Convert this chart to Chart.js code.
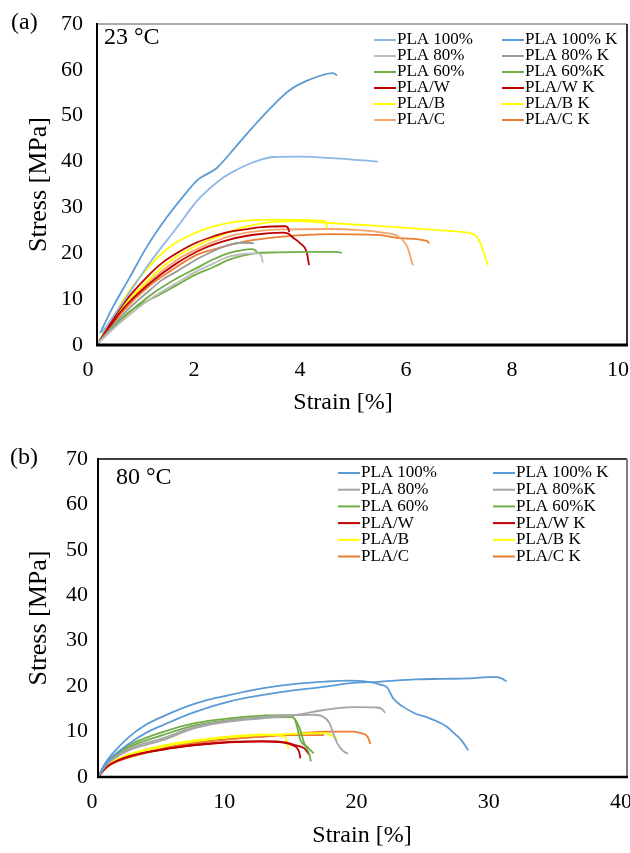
<!DOCTYPE html>
<html>
<head>
<meta charset="utf-8">
<script src="https://cdn.jsdelivr.net/npm/chart.js@4.4.1/dist/chart.umd.min.js"></script>
<style>
  html, body { margin: 0; padding: 0; background: #fff; }
  #wrap { position: relative; width: 630px; height: 853px; }
  canvas { position: absolute; left: 0; }
  #chartA { top: 0; }
  #chartB { top: 425px; }
</style>
</head>
<body>
<div id="wrap">
  <canvas id="chartA" width="630" height="425"></canvas>
  <canvas id="chartB" width="630" height="428"></canvas>
</div>
<script>
// (a) 23 °C  -- [strain %, stress MPa]
const a_PLA100  = [[0.09,2.6],[0.5,9.5],[1.0,18],[1.5,25.5],[1.9,31.6],[2.32,36],[2.57,37.8],[2.94,39.8],[3.32,41],[3.83,41.1],[4.5,40.7],[5.3,40]];
const a_PLA100K = [[0.06,2.6],[0.3,8.3],[0.62,14.8],[0.94,21.4],[1.32,27.9],[1.57,31.6],[1.9,36],[2.26,38.6],[2.6,43],[2.94,47.5],[3.3,52],[3.64,55.6],[4.0,57.8],[4.45,59.3],[4.53,58.8]];
const a_PLA80   = [[0.02,0.4],[0.5,5.5],[1.0,10],[1.5,13.5],[1.85,15.9],[2.2,17.8],[2.47,19.2],[2.8,19.9],[3.04,20],[3.1,19.4],[3.13,18]];
const a_PLA80K  = [[0.02,0.4],[0.5,6.8],[1.0,12],[1.23,14.2],[1.5,16],[1.85,18.5],[2.2,20.5],[2.47,21.8],[2.75,22.3],[2.96,22.2]];
const a_PLA60   = [[0.02,0.4],[0.5,6],[1.0,10.8],[1.5,14.5],[1.85,16.6],[2.2,18.7],[2.47,20.0],[2.7,20.6],[2.92,20.9],[2.98,20.7],[3.02,20.2]];
const a_PLA60K  = [[0.02,0.4],[0.58,7],[1.23,11.3],[1.5,13],[1.85,15.3],[2.2,17],[2.47,18.5],[2.75,19.5],[2.98,20],[3.4,20.2],[4.0,20.3],[4.5,20.3],[4.62,20.1]];
const a_PLAW    = [[0.02,0.4],[0.5,9],[1.0,15.5],[1.23,17.9],[1.5,20],[1.85,22.2],[2.15,23.5],[2.47,24.6],[2.8,25.2],[3.1,25.7],[3.55,25.9],[3.6,25.6],[3.63,24.6]];
const a_PLAWK   = [[0.02,0.4],[0.5,8],[1.0,13.5],[1.5,17.8],[2.0,21],[2.5,23],[3.0,24.1],[3.5,24.5],[3.62,24.2],[3.7,23.4],[3.83,22.2],[3.96,20.1],[4.0,17.4]];
const a_PLAB    = [[0.02,0.4],[0.3,6],[0.58,11.3],[0.9,16],[1.23,20],[1.5,22.4],[1.85,24.4],[2.15,25.7],[2.47,26.6],[3.1,27.3],[3.74,27.3],[4.3,27.0],[4.35,25.5]];
const a_PLABK   = [[0.02,0.4],[0.5,8.5],[1.0,14.5],[1.23,17],[1.6,20],[2.0,22.3],[2.36,24],[2.8,25.8],[3.3,26.8],[3.8,27.0],[4.4,26.6],[5.5,25.8],[6.5,25.0],[6.9,24.6],[7.13,24.0],[7.23,22.3],[7.3,20],[7.38,17.4]];
const a_PLAC    = [[0.02,0.4],[0.5,8],[1.0,14],[1.5,18.5],[1.85,20.7],[2.2,22.5],[2.6,24],[3.0,24.8],[3.5,25.2],[4.4,25.3],[5.0,25],[5.4,24.5],[5.66,23.8],[5.85,21.5],[5.96,17.4]];
const a_PLACK   = [[0.02,0.4],[0.5,7.5],[1.0,13],[1.5,17],[1.85,19.5],[2.19,20.8],[2.8,22.6],[3.45,23.6],[4.4,24.2],[5.3,24],[5.72,23.3],[6.22,22.7],[6.27,22.2]];

// (b) 80 °C
const b_PLA100  = [[0,0],[0.5,2.5],[1,4.2],[2.37,7.4],[3.5,9.5],[4.88,11.4],[7.4,14.4],[9.9,16.6],[12.4,18.0],[14.9,19.1],[17.2,19.9],[18.9,20.6],[21.4,21.0],[24,21.5],[26,21.6],[28,21.7],[29.5,22.0],[30.2,22.0],[30.6,21.6],[30.9,21.0]];
const b_PLA100K = [[0,0],[0.5,2.8],[1,4.8],[2.37,8.9],[3.5,11.3],[4.88,13.3],[7.4,16.2],[9.9,18.0],[12.4,19.5],[14.9,20.5],[17.2,21.0],[18.9,21.2],[20.3,21.0],[21.4,20.3],[21.9,19.6],[22.3,17.4],[23,15.6],[23.9,14.1],[25,13],[25.9,11.9],[26.5,10.8],[26.9,9.7],[27.5,8],[28,5.9]];
const b_PLA80   = [[0,0],[0.5,2.2],[1,3.6],[2.37,5.9],[4.88,8.1],[7.4,10.8],[9.9,12.2],[12.4,12.9],[14.9,13.6],[17.2,14.8],[19.3,15.4],[21.1,15.3],[21.5,14.9],[21.7,14.1]];
const b_PLA80K  = [[0,0],[0.5,2.2],[1,3.7],[2.37,6.2],[4.88,8.5],[7.4,11.1],[9.9,12.4],[12.4,13.2],[14.6,13.6],[16.3,13.7],[17.0,13.3],[17.5,11.9],[17.8,9.5],[18.1,7.4],[18.5,5.8],[18.9,5.1]];
const b_PLA60   = [[0,0],[0.5,2.5],[1,4.2],[2.37,7.0],[4.88,9.9],[7.4,11.9],[9.9,12.9],[12.4,13.5],[14.4,13.6],[14.9,12.5],[15.1,10.5],[15.3,8.1],[15.8,6.7],[16.3,5.2]];
const b_PLA60K  = [[0,0],[0.5,2.4],[1,4.0],[2.37,6.6],[4.88,9.2],[7.4,11.4],[9.9,12.5],[12.4,13.1],[14.7,13.2],[15.2,11.1],[15.6,7.4],[16.0,4.8],[16.1,3.4]];
const b_PLAW    = [[0,0],[0.5,1.8],[1,2.9],[2.37,4.5],[4.88,6.0],[7.4,7.0],[9.9,7.6],[12.4,7.8],[13.9,7.6],[14.7,7.0],[15.2,5.6],[15.3,4.1]];
const b_PLAWK   = [[0,0],[0.5,1.8],[1,2.9],[2.37,4.6],[4.88,6.1],[7.4,7.1],[9.9,7.7],[12.4,7.9],[14.2,7.6],[14.9,7.0],[15.6,6.3],[16.0,4.8]];
const b_PLAB    = [[0,0],[0.5,2.0],[1,3.2],[2.37,5.0],[4.88,6.9],[7.4,8.1],[9.9,8.9],[12.4,9.4],[14.0,9.0],[14.2,8.5],[14.4,6.3]];
const b_PLABK   = [[0,0],[0.5,1.9],[1,3.1],[2.37,4.8],[4.88,6.7],[7.4,7.9],[9.9,8.7],[12.4,9.2],[15,9.5],[17.1,9.7],[17.6,9.2],[18.1,8.4]];
const b_PLAC    = [[0,0],[0.5,1.7],[1,2.8],[2.37,4.3],[4.88,6.2],[7.4,7.4],[9.9,8.3],[12.4,8.9],[15,9.5],[17.2,10.0],[19.2,10.0],[19.8,9.7],[20.4,8.8],[20.6,7.3]];
const b_PLACK   = [[0,0],[0.5,1.7],[1,2.8],[2.37,4.4],[4.88,6.3],[7.4,7.6],[9.9,8.4],[12.4,8.9],[15,9.2],[17.1,9.2]];

const labelsA = ['PLA 100%', 'PLA 100% K', 'PLA 80%', 'PLA 80% K', 'PLA 60%', 'PLA 60%K', 'PLA/W', 'PLA/W K', 'PLA/B', 'PLA/B K', 'PLA/C', 'PLA/C K'];
const labelsB = ['PLA 100%', 'PLA 100% K', 'PLA 80%', 'PLA 80%K', 'PLA 60%', 'PLA 60%K', 'PLA/W', 'PLA/W K', 'PLA/B', 'PLA/B K', 'PLA/C', 'PLA/C K'];
const seriesA = [a_PLA100, a_PLA100K, a_PLA80, a_PLA80K, a_PLA60, a_PLA60K, a_PLAW, a_PLAWK, a_PLAB, a_PLABK, a_PLAC, a_PLACK];
const seriesB = [b_PLA100, b_PLA100K, b_PLA80, b_PLA80K, b_PLA60, b_PLA60K, b_PLAW, b_PLAWK, b_PLAB, b_PLABK, b_PLAC, b_PLACK];
const colorsA = ['#8DB8E4', '#5B9BD5', '#BDBDBD', '#9A9A9A', '#70AD47', '#70AD47', '#C00000', '#C00000', '#FFFF00', '#FFFF00', '#F4A46C', '#ED7D31'];
const colorsB = ['#5B9BD5', '#5B9BD5', '#A5A5A5', '#A5A5A5', '#70AD47', '#70AD47', '#C00000', '#C00000', '#FFFF00', '#FFFF00', '#ED7D31', '#ED7D31'];

const serif = "'Liberation Serif', 'Times New Roman', serif";

// frame, panel texts and the two-column legend
const decorations = {
  id: 'decorations',
  afterDatasetsDraw(chart, args, o) {
    const ctx = chart.ctx;
    const { left, right, top, bottom } = chart.chartArea;
    ctx.save();
    const edge = (x1, y1, x2, y2, w, c) => {
      ctx.beginPath(); ctx.lineWidth = w; ctx.strokeStyle = c;
      ctx.moveTo(x1, y1); ctx.lineTo(x2, y2); ctx.stroke();
    };
    edge(left, top, right, top, o.topW, o.topC);
    edge(right, top, right, bottom, 2, o.rightC);
    edge(left, top - 1, left, bottom + 1, 2, '#000');
    edge(left - 1, bottom, right + 1, bottom, o.bottomW, '#000');

    ctx.fillStyle = '#000';
    ctx.textBaseline = 'middle';
    ctx.textAlign = 'left';
    ctx.font = '24px ' + serif;
    ctx.fillText(o.panel, o.panelX, o.panelY);
    ctx.fillText(o.temp, o.tempX, o.tempY);
    ctx.textAlign = 'center';
    ctx.fillText('Strain [%]', o.xTitleX, o.xTitleY);

    ctx.font = '17px ' + serif;
    ctx.textAlign = 'left';
    chart.data.datasets.forEach((ds, i) => {
      const x = o.legendX[i % 2];
      const y = o.legendY + Math.floor(i / 2) * o.legendRow;
      edge(x, y, x + 22, y, 2, ds.borderColor);
      ctx.fillText(ds.label, x + 23, y);
    });
    ctx.restore();
  }
};

function makeChart(id, cfg) {
  return new Chart(document.getElementById(id), {
    type: 'line',
    data: {
      datasets: cfg.series.map((d, i) => ({
        label: cfg.labels[i],
        data: d,
        borderColor: cfg.colors[i],
        borderWidth: 1.8,
        pointRadius: 0,
        cubicInterpolationMode: 'monotone',
        fill: false,
      })),
    },
    options: {
      responsive: false,
      animation: false,
      layout: { padding: { top: cfg.padTop, right: 3, left: 0, bottom: 0 } },
      plugins: {
        legend: { display: false },
        tooltip: { enabled: false },
        decorations: cfg.deco,
      },
      scales: {
        x: {
          type: 'linear',
          min: 0,
          max: cfg.xMax,
          grid: { display: false, drawTicks: false },
          border: { display: false },
          ticks: {
            stepSize: cfg.xStep,
            color: '#000',
            font: { family: serif, size: 22 },
            padding: 12,
            labelOffset: cfg.labelOffset,
            maxRotation: 0,
            autoSkip: false,
          },
          afterFit: (s) => { s.height = cfg.xAxisH; s.paddingLeft = 0; s.paddingRight = 0; },
        },
        y: {
          min: 0,
          max: 70,
          grid: { display: false, drawTicks: false },
          border: { display: false },
          ticks: {
            stepSize: 10,
            color: '#000',
            font: { family: serif, size: 22 },
            padding: cfg.yPad,
          },
          title: {
            display: true,
            text: 'Stress [MPa]',
            color: '#000',
            font: { family: serif, size: 26 },
            padding: { top: 24, bottom: 0 },
          },
          afterFit: (s) => { s.width = cfg.yAxisW; s.paddingTop = 0; s.paddingBottom = 0; },
        },
      },
    },
    plugins: [decorations],
  });
}

makeChart('chartA', {
  series: seriesA, labels: labelsA, colors: colorsA,
  padTop: 24, xMax: 10, xStep: 2, labelOffset: -9, xAxisH: 80, yAxisW: 97, yPad: 14,
  deco: {
    topW: 1, topC: '#595959', rightC: '#333', bottomW: 3,
    panel: '(a)', panelX: 11, panelY: 23,
    temp: '23 °C', tempX: 104, tempY: 38,
    xTitleX: 343, xTitleY: 403,
    legendX: [374, 502], legendY: 40, legendRow: 16,
  },
});

makeChart('chartB', {
  series: seriesB, labels: labelsB, colors: colorsB,
  padTop: 34, xMax: 40, xStep: 10, labelOffset: -6, xAxisH: 76, yAxisW: 98, yPad: 10,
  deco: {
    topW: 1.5, topC: '#000', rightC: '#808080', bottomW: 2.5,
    panel: '(b)', panelX: 10, panelY: 33,
    temp: '80 °C', tempX: 116, tempY: 53,
    xTitleX: 362, xTitleY: 411,
    legendX: [338, 493], legendY: 48, legendRow: 16.7,
  },
});
</script>
</body>
</html>
